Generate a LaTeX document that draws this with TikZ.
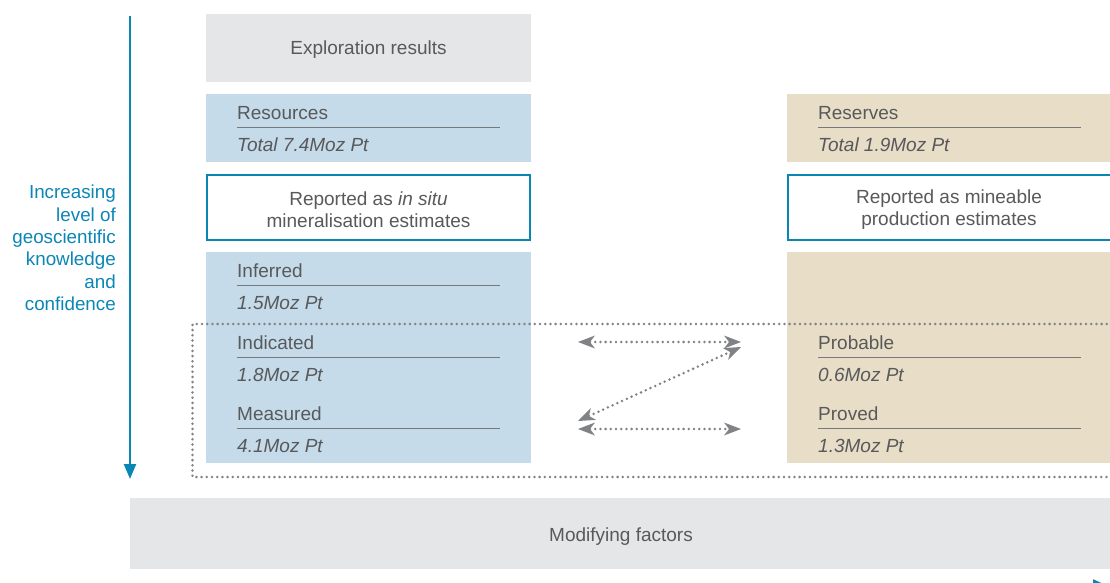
\documentclass[tikz,border=0pt]{standalone}
\usepackage{fontspec}
\setmainfont{Liberation Sans}
\usetikzlibrary{arrows.meta}
\definecolor{boxgray}{HTML}{E5E6E8}
\definecolor{boxblue}{HTML}{C5DBE9}
\definecolor{boxtan}{HTML}{E8DDC6}
\definecolor{accent}{HTML}{0A86B5}
\definecolor{txt}{HTML}{58595B}
\definecolor{rule}{HTML}{77787B}
\definecolor{dots}{HTML}{808285}
\tikzset{
  x=1pt, y=-1pt,
  every node/.style={font=\fontsize{19}{22}\selectfont, text=txt, inner sep=0pt},
  lbl/.style={anchor=base west},
  val/.style={anchor=base west, font=\fontsize{19}{22}\selectfont\itshape},
  sep/.style={draw=rule, line width=1pt},
  frame/.style={draw=accent, line width=2pt, fill=white},
  dotline/.style={draw=dots, line width=2.8pt, dash pattern=on 0pt off 5.2pt, line cap=round},
  dblarrow/.style={dotline, {Stealth[length=17pt,width=13pt,inset=5pt,fill=dots,line width=0pt]}-{Stealth[length=17pt,width=13pt,inset=5pt,fill=dots,line width=0pt]}},
}
\begin{document}
\begin{tikzpicture}
\useasboundingbox (0,0) rectangle (1110,583);
% left axis
\coordinate (axtop) at (130,16);
\coordinate (axbot) at (130,479);
\draw[accent, line width=2.4pt, -{Triangle[length=15pt,width=12pt]}] (axtop) -- (axbot);
\node[align=right, text=accent, anchor=north east, font=\fontsize{18.8}{22.3}\selectfont] (axlbl) at (116,185) {Increasing\\level of\\geoscientific\\knowledge\\and\\confidence};

% exploration results
\fill[boxgray] (206,14) rectangle (531,82);
\node (expl) at (368.5,50) {Exploration results};

% resources
\fill[boxblue] (206,94) rectangle (531,162);
\node[lbl] (res) at (237,119.5) {Resources};
\draw[sep] (237,127.5) -- (500,127.5);
\node[val] (restot) at (237,151) {Total 7.4Moz Pt};

\draw[frame] (207,175) rectangle (530,240);
\node[align=center] (insitu) at (368.5,210) {Reported as \textit{in situ}\\mineralisation estimates};

% blue categories
\fill[boxblue] (206,252) rectangle (531,463);
\node[lbl] (inf) at (237,277) {Inferred};
\draw[sep] (237,285.5) -- (500,285.5);
\node[val] (infv) at (237,309) {1.5Moz Pt};
\node[lbl] (ind) at (237,349) {Indicated};
\draw[sep] (237,357.5) -- (500,357.5);
\node[val] (indv) at (237,381) {1.8Moz Pt};
\node[lbl] (mea) at (237,420) {Measured};
\draw[sep] (237,428.5) -- (500,428.5);
\node[val] (meav) at (237,452) {4.1Moz Pt};

% reserves
\fill[boxtan] (787,94) rectangle (1110,162);
\node[lbl] (rsv) at (818,119.5) {Reserves};
\draw[sep] (818,127.5) -- (1081,127.5);
\node[val] (rsvtot) at (818,151) {Total 1.9Moz Pt};

\draw[frame] (788,175) rectangle (1111,240);
\node[align=center] (mine) at (949,210) {Reported as mineable\\production estimates};

\fill[boxtan] (787,252) rectangle (1110,463);
\node[lbl] (prob) at (818,349) {Probable};
\draw[sep] (818,357.5) -- (1081,357.5);
\node[val] (probv) at (818,381) {0.6Moz Pt};
\node[lbl] (prov) at (818,420) {Proved};
\draw[sep] (818,428.5) -- (1081,428.5);
\node[val] (provv) at (818,452) {1.3Moz Pt};

% dotted frame
\coordinate (dtr) at (1112,324);
\coordinate (dtl) at (192.5,324);
\coordinate (dbl) at (192.5,477);
\coordinate (dbr) at (1112,477);
\draw[dotline] (dtr) -- (dtl) -- (dbl) -- (dbr);

% arrows
\coordinate (a1l) at (578,342);
\coordinate (a1r) at (741,342);
\coordinate (a2r) at (741,347);
\coordinate (a2l) at (578,421);
\coordinate (a3l) at (578,429);
\coordinate (a3r) at (741,429);
\draw[dblarrow] (a1l) -- (a1r);
\draw[dblarrow] (a2l) -- (a2r);
\draw[dblarrow] (a3l) -- (a3r);

% modifying factors
\fill[boxgray] (130,498) rectangle (1110,569);
\node (mod) at (621,536.5) {Modifying factors};

% cut-off arrow at bottom right
\coordinate (hs) at (1070,586);
\coordinate (he) at (1108,586);
\draw[accent, line width=2.2pt, -{Triangle[length=15pt,width=13pt]}] (hs) -- (he);
\end{tikzpicture}
\end{document}
